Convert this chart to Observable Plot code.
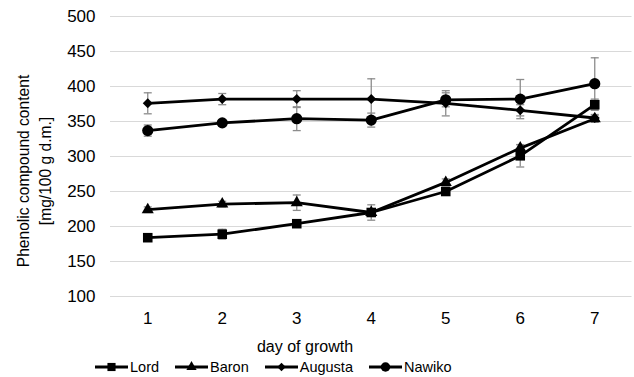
<!DOCTYPE html>
<html><head><meta charset="utf-8">
<script src="https://cdn.jsdelivr.net/npm/d3@7"></script>
<script src="https://cdn.jsdelivr.net/npm/@observablehq/plot@0.6"></script>
<style>
body{margin:0;background:#fff;font-family:"Liberation Sans",Arial,sans-serif;}
#legend{display:flex;height:21px;align-items:center;padding-left:95px;font-size:14.5px;color:#000;}
.item{display:flex;align-items:center;margin-right:16px;}
.item svg{margin-right:2px;}
</style></head><body><div id="chart"></div><div id="legend"></div>
<script>
const days = [1, 2, 3, 4, 5, 6, 7];
const seriesNames = ["Lord", "Baron", "Augusta", "Nawiko"];
const lordValues = [184, 189, 204, 220, 250, 301, 374];
const lordErr = [5, 7, 5, 11, 5, 16, 8];
const baronValues = [224, 232, 234, 220, 263, 312, 354];
const baronErr = [4, 4, 11, 5, 5, 5, 5];
const augustaValues = [376, 382, 382, 382, 376, 366, 355];
const augustaErr = [15, 8, 12, 29, 18, 8, 5];
const nawikoValues = [337, 348, 354, 352, 381, 382, 404];
const nawikoErr = [8, 4, 17, 10, 10, 28, 37];
const yTicks = [100, 150, 200, 250, 300, 350, 400, 450, 500];
const xLabel = "day of growth";
const yLabel1 = "Phenolic compound content";
const yLabel2 = "[mg/100 g d.m.]";

const valuesBy = {Lord: lordValues, Baron: baronValues, Augusta: augustaValues, Nawiko: nawikoValues};
const errBy = {Lord: lordErr, Baron: baronErr, Augusta: augustaErr, Nawiko: nawikoErr};
const symbolBy = {Lord: "square", Baron: "triangle", Augusta: "diamond2", Nawiko: "circle"};
const rBy = {Lord: 5.4, Baron: 4.5, Augusta: 4.5, Nawiko: 5.6};
const d3SymbolBy = {Lord: d3.symbolSquare, Baron: d3.symbolTriangle, Augusta: d3.symbolDiamond2, Nawiko: d3.symbolCircle};

const rows = [];
for (const s of seriesNames) days.forEach((d, i) => rows.push({series: s, day: d, value: valuesBy[s][i], err: errBy[s][i]}));

const capSymbol = {draw(ctx) { ctx.moveTo(-4, 0); ctx.lineTo(4, 0); }};
const errColor = "#8c8c8c";

const marks = [
  Plot.ruleY(yTicks, {stroke: "#d9d9d9", strokeWidth: 1.2}),
  Plot.ruleX(rows, {x: "day", y1: d => d.value - d.err, y2: d => d.value + d.err, stroke: errColor, strokeWidth: 1.3}),
  Plot.dot(rows, {x: "day", y: d => d.value - d.err, symbol: capSymbol, stroke: errColor, strokeWidth: 1.3, fill: "none"}),
  Plot.dot(rows, {x: "day", y: d => d.value + d.err, symbol: capSymbol, stroke: errColor, strokeWidth: 1.3, fill: "none"}),
  Plot.line(rows, {x: "day", y: "value", z: "series", stroke: "#000", strokeWidth: 2.8}),
];
for (const s of seriesNames) {
  marks.push(Plot.dot(rows.filter(d => d.series === s), {x: "day", y: "value", symbol: symbolBy[s], r: rBy[s], fill: "#000", stroke: "none"}));
}
marks.push(Plot.axisY(yTicks, {tickSize: 0, tickPadding: 15, fontSize: 17, label: null}));
marks.push(Plot.axisX(days, {tickSize: 0, tickPadding: 15, fontSize: 17, label: null}));

const chart = Plot.plot({
  width: 634, height: 356,
  marginLeft: 110, marginRight: 2.5, marginTop: 16, marginBottom: 60,
  style: {fontFamily: '"Liberation Sans", Arial, sans-serif', color: "#000", background: "#fff"},
  x: {domain: [0.5, 7.5]},
  y: {domain: [100, 500]},
  marks
});
document.getElementById("chart").appendChild(chart);

const svg = d3.select(chart);
svg.append("text").attr("x", 305).attr("y", 352).attr("text-anchor", "middle")
  .attr("font-size", 16).attr("fill", "#000").text(xLabel);
svg.append("text").attr("transform", "translate(24,171) rotate(-90)").attr("text-anchor", "middle")
  .attr("dy", "0.35em").attr("font-size", 15.6).attr("fill", "#000").text(yLabel1);
svg.append("text").attr("transform", "translate(46,171) rotate(-90)").attr("text-anchor", "middle")
  .attr("dy", "0.35em").attr("font-size", 15.6).attr("fill", "#000").text(yLabel2);

const legend = d3.select("#legend");
for (const s of seriesNames) {
  const item = legend.append("div").attr("class", "item");
  const sw = item.append("svg").attr("width", 33).attr("height", 14);
  sw.append("line").attr("x1", 0).attr("x2", 33).attr("y1", 7).attr("y2", 7).attr("stroke", "#000").attr("stroke-width", 2.8);
  const r = rBy[s] * 0.85;
  sw.append("path").attr("transform", "translate(16.5,7)").attr("d", d3.symbol(d3SymbolBy[s], Math.PI * r * r)()).attr("fill", "#000");
  item.append("span").text(s);
}
</script></body></html>
